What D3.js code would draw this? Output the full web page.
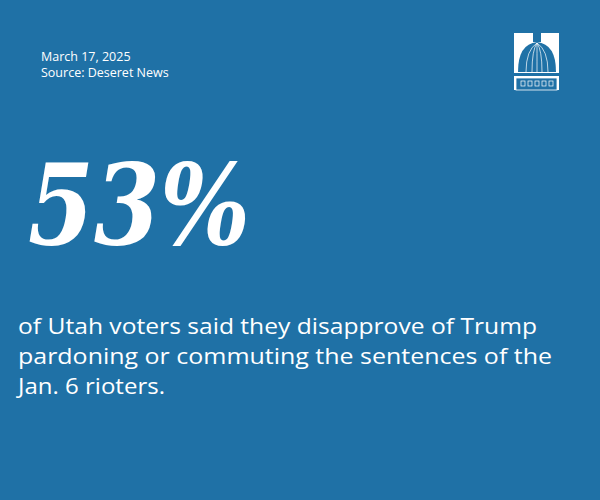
<!DOCTYPE html>
<html><head><meta charset="utf-8">
<script src="https://cdn.jsdelivr.net/npm/d3@7"></script>
<style>body{margin:0;background:#1f71a6}</style>
</head><body>
<div id="chart"></div>
<script>
const statValue = [53];
const headerLines = ["March 17, 2025", "Source: Deseret News"];
const bodyLines = ["of Utah voters said they disapprove of Trump",
                   "pardoning or commuting the sentences of the",
                   "Jan. 6 rioters."];
const bodyWidths = [519, 534, 147];

const width = 600, height = 500;
const svg = d3.select("#chart").append("svg").attr("width", width).attr("height", height);
svg.append("rect").attr("width", width).attr("height", height).attr("fill", "#1f71a6");

// header
svg.selectAll(".hdr").data(headerLines).enter().append("text")
  .attr("x", 41).attr("y", (d, i) => 61 + i * 16)
  .style("font-family", "'Open Sans', sans-serif").style("font-size", "12.5px")
  .attr("fill", "white").text(d => d);

// big stat
svg.selectAll(".stat").data(statValue).enter().append("text")
  .attr("x", 28).attr("y", 244)
  .style("font-family", "'DejaVu Serif', serif").style("font-weight", "bold")
  .style("font-style", "italic").style("font-size", "112px")
  .attr("textLength", 222).attr("lengthAdjust", "spacingAndGlyphs")
  .attr("fill", "white").text(d => d + "%");

// body text
svg.selectAll(".body").data(bodyLines).enter().append("text")
  .attr("x", 18).attr("y", (d, i) => 334 + i * 30)
  .style("font-family", "'Open Sans', sans-serif").style("font-size", "21px")
  .attr("textLength", (d, i) => bodyWidths[i]).attr("lengthAdjust", "spacingAndGlyphs")
  .attr("fill", "white").text(d => d);

// logo: simple capitol dome
const g = svg.append("g").attr("transform", "translate(514,20)");
g.append("path").attr("d", "M0,13 H45 V70 H0 Z").attr("fill", "white");
g.append("path").attr("d", "M4,52 Q4,24 23,22 Q42,24 42,52 Z").attr("fill", "#1f71a6");
[12,18,23,28,34].forEach(x => g.append("path")
  .attr("d", `M23,23 Q${x},30 ${x},52`).attr("stroke", "white").attr("stroke-width", 0.7).attr("fill", "none"));
g.append("rect").attr("x", 19).attr("y", 10).attr("width", 8).attr("height", 12).attr("fill", "#1f71a6");
g.append("rect").attr("x", 21).attr("y", 4).attr("width", 4).attr("height", 6).attr("fill", "#1f71a6");
g.append("rect").attr("x", 0).attr("y", 53).attr("width", 47).attr("height", 3).attr("fill", "#1f71a6");
g.append("rect").attr("x", 2).attr("y", 58).attr("width", 41).attr("height", 12).attr("fill", "#1f71a6")
  .attr("stroke", "white").attr("stroke-width", 0.8);
[9,16,23,30,37].forEach(x => g.append("rect").attr("x", x - 2).attr("y", 61).attr("width", 4).attr("height", 5)
  .attr("fill", "none").attr("stroke", "white").attr("stroke-width", 0.7));
</script>
</body></html>
